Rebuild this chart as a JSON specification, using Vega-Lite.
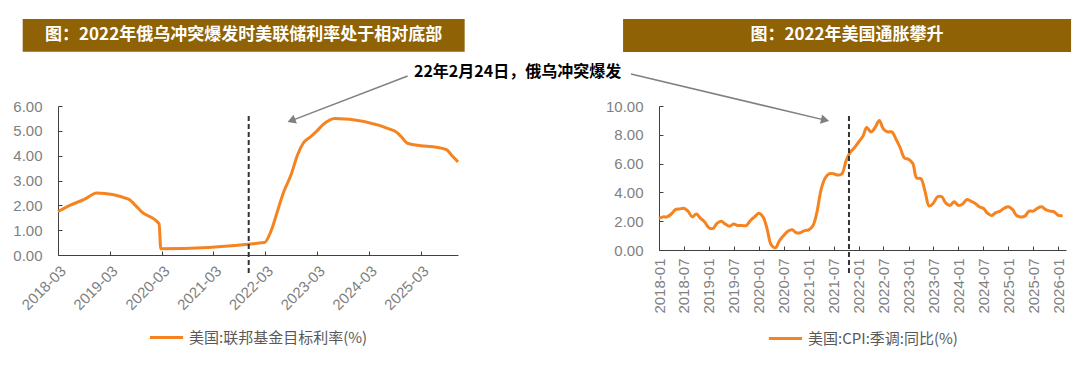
{
  "$schema": "https://vega.github.io/schema/vega-lite/v6.json",
  "background": "white",
  "padding": {"left": 12, "top": 19, "right": 5, "bottom": 5},
  "bounds": "flush",
  "spacing": 201,
  "resolve": {"scale": {"color": "independent"}, "legend": {"color": "independent"}},
  "config": {
    "view": {"stroke": null},
    "axis": {"grid": false, "domainColor": "#404040", "tickColor": "#404040", "tickSize": -4, "labelColor": "#7f7f7f", "labelFont": "Liberation Sans", "labelFontSize": 15, "labelOverlap": false, "labelSeparation": -40, "title": null},
    "legend": {"orient": "bottom", "direction": "horizontal", "offset": 6, "symbolType": "stroke", "symbolStrokeWidth": 3, "symbolSize": 1100, "labelFont": "Noto Sans CJK SC", "labelFontSize": 15, "labelColor": "#595959", "labelLimit": 400, "title": null, "layout": {"bottom": {"anchor": "middle"}}}
  },
  "hconcat": [
    {
      "width": 400,
      "height": 149,
      "layer": [
        {
          "data": {"values": [
            {"date": "2018-03-22", "rate": 1.75},
            {"date": "2018-06-14", "rate": 2.0},
            {"date": "2018-09-27", "rate": 2.25},
            {"date": "2018-12-20", "rate": 2.5},
            {"date": "2019-08-01", "rate": 2.25},
            {"date": "2019-09-19", "rate": 2.0},
            {"date": "2019-10-31", "rate": 1.75},
            {"date": "2020-03-04", "rate": 1.25},
            {"date": "2020-03-16", "rate": 0.25},
            {"date": "2022-03-17", "rate": 0.5},
            {"date": "2022-05-05", "rate": 1.0},
            {"date": "2022-06-16", "rate": 1.75},
            {"date": "2022-07-28", "rate": 2.5},
            {"date": "2022-09-22", "rate": 3.25},
            {"date": "2022-11-03", "rate": 4.0},
            {"date": "2022-12-15", "rate": 4.5},
            {"date": "2023-02-02", "rate": 4.75},
            {"date": "2023-03-23", "rate": 5.0},
            {"date": "2023-05-04", "rate": 5.25},
            {"date": "2023-07-27", "rate": 5.5},
            {"date": "2024-09-19", "rate": 5.0},
            {"date": "2024-11-08", "rate": 4.75},
            {"date": "2024-12-19", "rate": 4.5},
            {"date": "2025-09-18", "rate": 4.25},
            {"date": "2025-10-30", "rate": 4.0},
            {"date": "2025-12-11", "rate": 3.75}
          ]},
          "mark": {"type": "line", "interpolate": "monotone", "strokeWidth": 3},
          "encoding": {
            "x": {
              "field": "date", "type": "temporal",
              "scale": {"type": "utc", "nice": false, "domain": [{"year": 2018, "month": 3, "date": 22, "utc": true}, {"year": 2025, "month": 12, "date": 11, "utc": true}]},
              "axis": {
                "title": null, "format": "%Y-%m", "labelAngle": -45, "labelPadding": 12, "labelOverlap": false, "labelFlush": false,
                "values": [
                  {"year": 2018, "month": 3, "date": 22, "utc": true},
                  {"year": 2019, "month": 3, "date": 22, "utc": true},
                  {"year": 2020, "month": 3, "date": 22, "utc": true},
                  {"year": 2021, "month": 3, "date": 22, "utc": true},
                  {"year": 2022, "month": 3, "date": 22, "utc": true},
                  {"year": 2023, "month": 3, "date": 22, "utc": true},
                  {"year": 2024, "month": 3, "date": 22, "utc": true},
                  {"year": 2025, "month": 3, "date": 22, "utc": true}
                ]
              }
            },
            "y": {
              "field": "rate", "type": "quantitative",
              "scale": {"domain": [0, 6], "nice": false, "zero": true},
              "axis": {"title": null, "values": [0, 1, 2, 3, 4, 5, 6], "tickCount": 7, "format": ".2f", "labelPadding": 20, "labelOverlap": false, "labelFlush": false}
            },
            "color": {"datum": "美国:联邦基金目标利率(%)", "scale": {"range": ["#F5831F"]}}
          }
        },
        {
          "data": {"values": [{}]},
          "mark": {"type": "rect", "color": "#8F6305"},
          "encoding": {
            "x": {"datum": {"year": 2017, "month": 7, "date": 16, "utc": true}, "type": "temporal"},
            "x2": {"datum": {"year": 2026, "month": 1, "date": 27, "utc": true}},
            "y": {"datum": 9.5},
            "y2": {"datum": 8.18}
          }
        },
        {
          "data": {"values": [{}]},
          "mark": {"type": "text", "color": "white", "font": "Noto Sans CJK SC", "fontWeight": "bold", "fontSize": 17, "align": "center", "baseline": "middle"},
          "encoding": {
            "x": {"datum": {"year": 2021, "month": 10, "date": 21, "utc": true}, "type": "temporal"},
            "y": {"datum": 8.84},
            "text": {"value": "图：2022年俄乌冲突爆发时美联储利率处于相对底部"}
          }
        },
        {
          "data": {"values": [{}]},
          "mark": {"type": "text", "color": "black", "font": "Noto Sans CJK SC", "fontWeight": "bold", "fontSize": 16, "align": "center", "baseline": "middle"},
          "encoding": {
            "x": {"datum": {"year": 2027, "month": 2, "date": 4, "utc": true}, "type": "temporal"},
            "y": {"datum": 7.37},
            "text": {"value": "22年2月24日，俄乌冲突爆发"}
          }
        },
        {
          "data": {"values": [{}]},
          "mark": {"type": "rule", "color": "#808080", "strokeWidth": 1.5},
          "encoding": {
            "x": {"datum": {"year": 2024, "month": 12, "date": 21, "utc": true}, "type": "temporal"},
            "y": {"datum": 7.21},
            "x2": {"datum": {"year": 2022, "month": 9, "date": 23, "utc": true}},
            "y2": {"datum": 5.41}
          }
        },
        {
          "data": {"values": [{}]},
          "mark": {"type": "point", "shape": "triangle-right", "filled": true, "opacity": 1, "size": 90, "angle": 159, "color": "#808080"},
          "encoding": {
            "x": {"datum": {"year": 2022, "month": 9, "date": 23, "utc": true}, "type": "temporal"},
            "y": {"datum": 5.41}
          }
        },
        {
          "data": {"values": [{}]},
          "mark": {"type": "rule", "color": "#333333", "strokeWidth": 2, "strokeDash": [5, 3]},
          "encoding": {
            "x": {"datum": {"year": 2021, "month": 11, "date": 26, "utc": true}, "type": "temporal"},
            "y": {"datum": 5.6},
            "y2": {"datum": -0.74}
          }
        }
      ]
    },
    {
      "width": 407,
      "height": 144,
      "layer": [
        {
          "data": {"values": [
            {"date": "2018-01-01", "cpi": 2.2}, {"date": "2018-02-01", "cpi": 2.3}, {"date": "2018-03-01", "cpi": 2.3}, {"date": "2018-04-01", "cpi": 2.5},
            {"date": "2018-05-01", "cpi": 2.8}, {"date": "2018-06-01", "cpi": 2.85}, {"date": "2018-07-01", "cpi": 2.9}, {"date": "2018-08-01", "cpi": 2.7},
            {"date": "2018-09-01", "cpi": 2.3}, {"date": "2018-10-01", "cpi": 2.5}, {"date": "2018-11-01", "cpi": 2.2}, {"date": "2018-12-01", "cpi": 1.95},
            {"date": "2019-01-01", "cpi": 1.55}, {"date": "2019-02-01", "cpi": 1.5}, {"date": "2019-03-01", "cpi": 1.85}, {"date": "2019-04-01", "cpi": 2.0},
            {"date": "2019-05-01", "cpi": 1.8}, {"date": "2019-06-01", "cpi": 1.65}, {"date": "2019-07-01", "cpi": 1.8}, {"date": "2019-08-01", "cpi": 1.7},
            {"date": "2019-09-01", "cpi": 1.7}, {"date": "2019-10-01", "cpi": 1.7}, {"date": "2019-11-01", "cpi": 2.05}, {"date": "2019-12-01", "cpi": 2.3},
            {"date": "2020-01-01", "cpi": 2.55}, {"date": "2020-02-01", "cpi": 2.3}, {"date": "2020-03-01", "cpi": 1.5}, {"date": "2020-04-01", "cpi": 0.35},
            {"date": "2020-05-01", "cpi": 0.15}, {"date": "2020-06-01", "cpi": 0.65}, {"date": "2020-07-01", "cpi": 1.0}, {"date": "2020-08-01", "cpi": 1.3},
            {"date": "2020-09-01", "cpi": 1.4}, {"date": "2020-10-01", "cpi": 1.2}, {"date": "2020-11-01", "cpi": 1.2}, {"date": "2020-12-01", "cpi": 1.35},
            {"date": "2021-01-01", "cpi": 1.4}, {"date": "2021-02-01", "cpi": 1.7}, {"date": "2021-03-01", "cpi": 2.6}, {"date": "2021-04-01", "cpi": 4.2},
            {"date": "2021-05-01", "cpi": 5.0}, {"date": "2021-06-01", "cpi": 5.3}, {"date": "2021-07-01", "cpi": 5.3}, {"date": "2021-08-01", "cpi": 5.2},
            {"date": "2021-09-01", "cpi": 5.3}, {"date": "2021-10-01", "cpi": 6.2}, {"date": "2021-11-01", "cpi": 6.8}, {"date": "2021-12-01", "cpi": 7.1},
            {"date": "2022-01-01", "cpi": 7.5}, {"date": "2022-02-01", "cpi": 7.9}, {"date": "2022-03-01", "cpi": 8.5}, {"date": "2022-04-01", "cpi": 8.2},
            {"date": "2022-05-01", "cpi": 8.5}, {"date": "2022-06-01", "cpi": 9.0}, {"date": "2022-07-01", "cpi": 8.4}, {"date": "2022-08-01", "cpi": 8.2},
            {"date": "2022-09-01", "cpi": 8.2}, {"date": "2022-10-01", "cpi": 7.7}, {"date": "2022-11-01", "cpi": 7.1}, {"date": "2022-12-01", "cpi": 6.4},
            {"date": "2023-01-01", "cpi": 6.3}, {"date": "2023-02-01", "cpi": 6.0}, {"date": "2023-03-01", "cpi": 5.0}, {"date": "2023-04-01", "cpi": 4.95},
            {"date": "2023-05-01", "cpi": 4.1}, {"date": "2023-06-01", "cpi": 3.05}, {"date": "2023-07-01", "cpi": 3.25}, {"date": "2023-08-01", "cpi": 3.7},
            {"date": "2023-09-01", "cpi": 3.7}, {"date": "2023-10-01", "cpi": 3.25}, {"date": "2023-11-01", "cpi": 3.1}, {"date": "2023-12-01", "cpi": 3.35},
            {"date": "2024-01-01", "cpi": 3.1}, {"date": "2024-02-01", "cpi": 3.2}, {"date": "2024-03-01", "cpi": 3.5}, {"date": "2024-04-01", "cpi": 3.4},
            {"date": "2024-05-01", "cpi": 3.25}, {"date": "2024-06-01", "cpi": 3.0}, {"date": "2024-07-01", "cpi": 2.9}, {"date": "2024-08-01", "cpi": 2.55},
            {"date": "2024-09-01", "cpi": 2.4}, {"date": "2024-10-01", "cpi": 2.6}, {"date": "2024-11-01", "cpi": 2.7}, {"date": "2024-12-01", "cpi": 2.9},
            {"date": "2025-01-01", "cpi": 3.0}, {"date": "2025-02-01", "cpi": 2.8}, {"date": "2025-03-01", "cpi": 2.4}, {"date": "2025-04-01", "cpi": 2.3},
            {"date": "2025-05-01", "cpi": 2.35}, {"date": "2025-06-01", "cpi": 2.7}, {"date": "2025-07-01", "cpi": 2.7}, {"date": "2025-08-01", "cpi": 2.9},
            {"date": "2025-09-01", "cpi": 3.0}, {"date": "2025-10-01", "cpi": 2.8}, {"date": "2025-11-01", "cpi": 2.7}, {"date": "2025-12-01", "cpi": 2.65},
            {"date": "2026-01-01", "cpi": 2.4}, {"date": "2026-02-01", "cpi": 2.4}
          ]},
          "mark": {"type": "line", "interpolate": "catmull-rom", "strokeWidth": 3},
          "encoding": {
            "x": {
              "field": "date", "type": "temporal",
              "scale": {"type": "utc", "nice": false, "domain": [{"year": 2018, "month": 1, "date": 1, "utc": true}, {"year": 2026, "month": 2, "date": 26, "utc": true}]},
              "axis": {
                "title": null, "format": "%Y-%m", "labelAngle": -90, "labelPadding": 12, "labelOverlap": false, "labelFlush": false,
                "tickCount": {"interval": "month", "step": 6},
                "values": [
                  {"year": 2018, "month": 1, "date": 1, "utc": true}, {"year": 2018, "month": 7, "date": 1, "utc": true},
                  {"year": 2019, "month": 1, "date": 1, "utc": true}, {"year": 2019, "month": 7, "date": 1, "utc": true},
                  {"year": 2020, "month": 1, "date": 1, "utc": true}, {"year": 2020, "month": 7, "date": 1, "utc": true},
                  {"year": 2021, "month": 1, "date": 1, "utc": true}, {"year": 2021, "month": 7, "date": 1, "utc": true},
                  {"year": 2022, "month": 1, "date": 1, "utc": true}, {"year": 2022, "month": 7, "date": 1, "utc": true},
                  {"year": 2023, "month": 1, "date": 1, "utc": true}, {"year": 2023, "month": 7, "date": 1, "utc": true},
                  {"year": 2024, "month": 1, "date": 1, "utc": true}, {"year": 2024, "month": 7, "date": 1, "utc": true},
                  {"year": 2025, "month": 1, "date": 1, "utc": true}, {"year": 2025, "month": 7, "date": 1, "utc": true},
                  {"year": 2026, "month": 1, "date": 1, "utc": true}
                ]
              }
            },
            "y": {
              "field": "cpi", "type": "quantitative",
              "scale": {"domain": [0, 10], "nice": false, "zero": true},
              "axis": {"title": null, "values": [0, 2, 4, 6, 8, 10], "tickCount": 6, "format": ".2f", "labelPadding": 20, "labelOverlap": false, "labelFlush": false}
            },
            "color": {"datum": "美国:CPI:季调:同比(%)", "scale": {"range": ["#F5831F"]}}
          }
        },
        {
          "data": {"values": [{}]},
          "mark": {"type": "rect", "color": "#8F6305"},
          "encoding": {
            "x": {"datum": {"year": 2017, "month": 4, "date": 13, "utc": true}, "type": "temporal"},
            "x2": {"datum": {"year": 2026, "month": 4, "date": 4, "utc": true}},
            "y": {"datum": 16.04},
            "y2": {"datum": 13.75}
          }
        },
        {
          "data": {"values": [{}]},
          "mark": {"type": "text", "color": "white", "font": "Noto Sans CJK SC", "fontWeight": "bold", "fontSize": 17, "align": "center", "baseline": "middle"},
          "encoding": {
            "x": {"datum": {"year": 2021, "month": 10, "date": 8, "utc": true}, "type": "temporal"},
            "y": {"datum": 14.9},
            "text": {"value": "图：2022年美国通胀攀升"}
          }
        },
        {
          "data": {"values": [{}]},
          "mark": {"type": "rule", "color": "#808080", "strokeWidth": 1.5},
          "encoding": {
            "x": {"datum": {"year": 2017, "month": 6, "date": 10, "utc": true}, "type": "temporal"},
            "y": {"datum": 12.22},
            "x2": {"datum": {"year": 2021, "month": 4, "date": 30, "utc": true}},
            "y2": {"datum": 9.02}
          }
        },
        {
          "data": {"values": [{}]},
          "mark": {"type": "point", "shape": "triangle-right", "filled": true, "opacity": 1, "size": 90, "angle": 13, "color": "#808080"},
          "encoding": {
            "x": {"datum": {"year": 2021, "month": 4, "date": 30, "utc": true}, "type": "temporal"},
            "y": {"datum": 9.02}
          }
        },
        {
          "data": {"values": [{}]},
          "mark": {"type": "rule", "color": "#333333", "strokeWidth": 2, "strokeDash": [5, 3]},
          "encoding": {
            "x": {"datum": {"year": 2021, "month": 10, "date": 22, "utc": true}, "type": "temporal"},
            "y": {"datum": 9.31},
            "y2": {"datum": -1.62}
          }
        }
      ]
    }
  ]
}
